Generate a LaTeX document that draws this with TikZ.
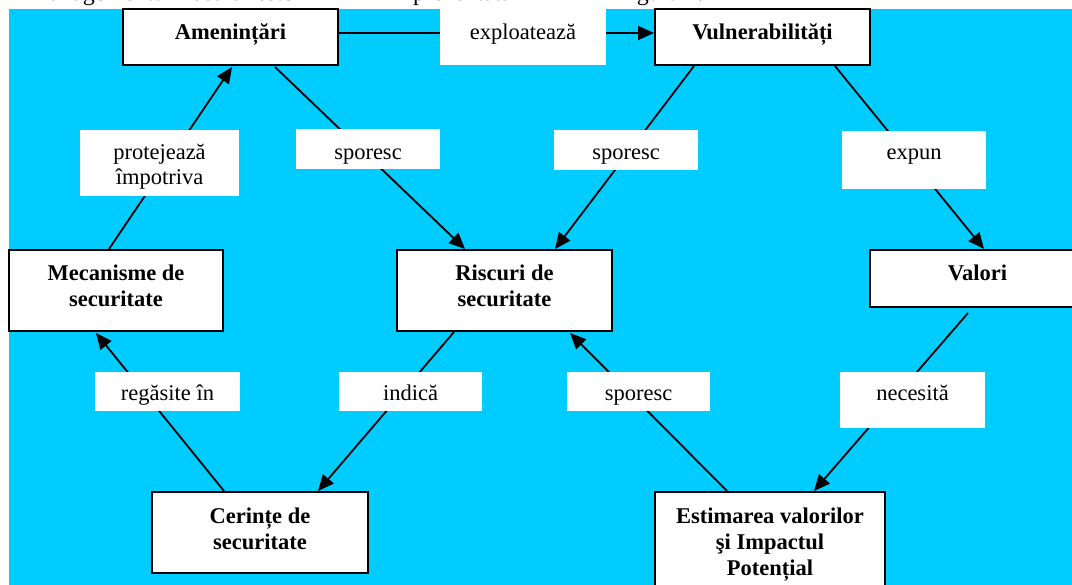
\documentclass[tikz,border=0pt]{standalone}
\usepackage{fontspec}
\setmainfont{Liberation Serif}
\usetikzlibrary{arrows.meta}
\definecolor{bgcyan}{HTML}{00CCFF}
\newcommand{\mlines}[1]{\begin{tabular}[t]{@{}c@{}}#1\end{tabular}}
\begin{document}
\begin{tikzpicture}[x=1pt,y=-1pt,
  box/.style={draw=black, line width=2pt, fill=white, inner sep=0pt, anchor=base,
    font=\fontsize{22.5}{26}\selectfont\bfseries},
  lbl/.style={fill=white, inner sep=0pt, anchor=base,
    font=\fontsize{22.5}{25}\selectfont},
  toptext/.style={inner sep=0pt, anchor=base west, font=\fontsize{24}{28}\selectfont},
  conn/.style={line width=1.8pt, -{Triangle[length=16pt,width=14pt]}},
  plainline/.style={line width=1.8pt}]
\useasboundingbox (0,0) rectangle (1072,585);
\fill[white] (0,0) rectangle (1072,585);
\begin{scope}
\clip (0,0) rectangle (1072,9);
\node[toptext] (t1) at (28,1) {Managementul riscului este};
\node[toptext] (t2) at (413,1) {prezentată în};
\node[toptext] (t3) at (622,1) {figura 1.};
\end{scope}
\fill[bgcyan] (9,9) rectangle (1072,585);

% boxes
\node[box, minimum width=215pt, text height=31pt, text depth=25pt] (amen) at (230.5,40) {Amenințări};
\node[box, minimum width=215pt, text height=31pt, text depth=25pt] (vuln) at (762.5,40) {Vulnerabilități};
\node[box, minimum width=214pt, text height=31pt, text depth=50pt] (mec) at (116,281) {\mlines{Mecanisme de\\securitate}};
\node[box, minimum width=215pt, text height=31pt, text depth=50pt] (risc) at (504.5,281) {\mlines{Riscuri de\\securitate}};
\node[box, minimum width=215pt, text height=31pt, text depth=26pt] (val) at (977.5,281) {Valori};
\node[box, minimum width=216pt, text height=31pt, text depth=50pt] (cer) at (260,523) {\mlines{Cerințe de\\securitate}};
\node[box, minimum width=230pt, text height=31pt, text depth=80pt] (est) at (770,523) {\mlines{Estimarea valorilor\\şi Impactul\\Potențial}};

% connectors
\draw[conn] ([yshift=4pt,xshift=-2pt]amen.east) -- ([yshift=4pt]vuln.west);
\draw[conn] ([xshift=-7pt]mec.north) -- ([xshift=1.5pt,yshift=-1pt]amen.south);
\draw[conn] ([xshift=44.5pt,yshift=-1pt]amen.south) -- ([xshift=-39.5pt]risc.north);
\draw[conn] ([xshift=-68.5pt]vuln.south) -- ([xshift=50.5pt]risc.north);
\draw[conn] ([xshift=72.5pt]vuln.south) -- ([xshift=6.5pt]val.north);
\draw[conn] ([xshift=-36pt]cer.north) -- ([xshift=-20pt,yshift=-1pt]mec.south);
\draw[conn] ([xshift=-50.5pt]risc.south) -- ([xshift=58pt]cer.north);
\draw[conn] ([xshift=-43pt]est.north) -- ([xshift=65.5pt,yshift=-1pt]risc.south);
\draw[conn] ([xshift=-9.5pt,yshift=-5pt]val.south) -- ([xshift=44pt]est.north);

% labels
\node[lbl, minimum width=166pt, text height=31pt, text depth=25pt] (expl) at (523,40) {exploatează};
\node[lbl, minimum width=159pt, text height=30pt, text depth=36pt] (prot) at (159.5,160) {\mlines{protejează\\împotriva}};
\node[lbl, minimum width=144pt, text height=31pt, text depth=9pt] (spor1) at (368,160) {sporesc};
\node[lbl, minimum width=144pt, text height=30pt, text depth=10pt] (spor2) at (626,160) {sporesc};
\node[lbl, minimum width=144pt, text height=29pt, text depth=29pt] (expun) at (914,160) {expun};
\node[lbl, minimum width=145pt, text height=29pt, text depth=10pt] (regas) at (167.5,401) {regăsite în};
\node[lbl, minimum width=143pt, text height=29pt, text depth=10pt] (indica) at (410.5,401) {indică};
\node[lbl, minimum width=143pt, text height=29pt, text depth=10pt] (spor3) at (638.5,401) {sporesc};
\node[lbl, minimum width=145pt, text height=29pt, text depth=27pt] (neces) at (912.5,401) {necesită};
\end{tikzpicture}
\end{document}
